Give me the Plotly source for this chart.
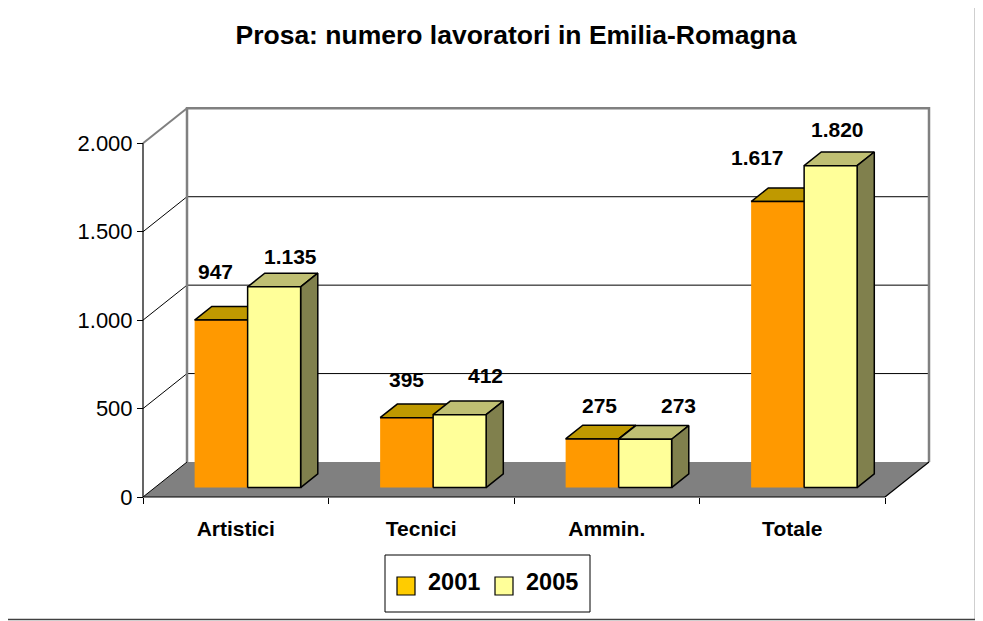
import plotly.graph_objects as go

# ---------------- data ----------------
categories = ["Artistici", "Tecnici", "Ammin.", "Totale"]
series_names = ["2001", "2005"]
values_2001 = [947, 395, 275, 1617]
values_2005 = [1135, 412, 273, 1820]
y_tick_values = [0, 500, 1000, 1500, 2000]
title_text = "Prosa: numero lavoratori in Emilia-Romagna"

# ---------------- style ----------------
FONT = "Liberation Sans, Arial, Helvetica, sans-serif"
FRONT = ["#FF9900", "#FFFF99"]
TOP = ["#BF9900", "#BFBF73"]
SIDE = ["#7F6600", "#80804D"]
LEGEND_COL = ["#FFCC00", "#FFFF99"]
OUTLINE = [False, True]
WALL_EDGE = "#808080"
FLOOR = "#808080"

# page geometry (the browser adds an 8px body margin around the figure)
OFF = 8
W, H = 983 - OFF, 621 - OFF


def fx(px):
    return (px - OFF) / W


def fy(py):
    return 1 - (py - OFF) / H


# projection set-up (page-pixel geometry of the front-left floor corner and scales)
X0_PX, Y0_PX = 143, 497
CAT_PX = 185.5          # width of one category slot
VAL_PX = 0.17685        # px per unit of value
DEPTH_DX_PX, DEPTH_DY_PX = 44, 35
PLOT_L, PLOT_R, PLOT_T, PLOT_B = 125, 950, 90, 515

DX = DEPTH_DX_PX / CAT_PX
DY = DEPTH_DY_PX / VAL_PX
NCAT = len(categories)
BW = 1 / 3.5                       # bar width (gap width 150%)
GAP = (1 - 2 * BW) / 2
D0, D1 = 0.27, 0.66                # bar depth extent
YMAX = max(y_tick_values)


def P(x, y, d):
    return (x + d * DX, y + d * DY)


fig = go.Figure()


def poly(pts, fill, line_color=None, width=0.0):
    xs = [p[0] for p in pts] + [pts[0][0]]
    ys = [p[1] for p in pts] + [pts[0][1]]
    fig.add_trace(go.Scatter(
        x=xs, y=ys, mode="lines", fill="toself", fillcolor=fill,
        line=dict(color=line_color if line_color else fill, width=width),
        hoverinfo="skip", showlegend=False))


def seg(pts, color, width):
    fig.add_trace(go.Scatter(
        x=[p[0] for p in pts], y=[p[1] for p in pts], mode="lines",
        line=dict(color=color, width=width), hoverinfo="skip", showlegend=False))


# floor
poly([P(0, 0, 0), P(NCAT, 0, 0), P(NCAT, 0, 1), P(0, 0, 1)], FLOOR)
# wall gridlines
for v in y_tick_values[1:-1]:
    seg([P(0, v, 1), P(NCAT, v, 1)], "black", 1)
    seg([P(0, v, 0), P(0, v, 1)], "black", 1)
# wall borders
seg([P(0, 0, 1), P(0, YMAX, 1), P(NCAT, YMAX, 1), P(NCAT, 0, 1)], WALL_EDGE, 2.5)
seg([P(0, YMAX, 0), P(0, YMAX, 1)], WALL_EDGE, 2)
# floor edges
seg([P(0, 0, 0), P(0, 0, 1)], "black", 1)
seg([P(NCAT, 0, 0), P(NCAT, 0, 1)], "black", 1.2)

# bars
series_vals = [values_2001, values_2005]
for i in range(NCAT):
    for s in range(2):
        h = series_vals[s][i]
        x0 = i + GAP + s * BW
        x1 = x0 + BW
        lc = "black"
        lw = 1.5
        poly([P(x0, h, D0), P(x1, h, D0), P(x1, h, D1), P(x0, h, D1)], TOP[s], lc, lw)
        poly([P(x1, 0, D0), P(x1, 0, D1), P(x1, h, D1), P(x1, h, D0)], SIDE[s], lc, lw)
        if OUTLINE[s]:
            poly([P(x0, 0, D0), P(x1, 0, D0), P(x1, h, D0), P(x0, h, D0)], FRONT[s], lc, lw)
        else:
            poly([P(x0, 0, D0), P(x1, 0, D0), P(x1, h, D0), P(x0, h, D0)], FRONT[s])
            seg([P(x0, h, D0), P(x1, h, D0)], lc, lw)

# front axes lines
seg([P(0, YMAX, 0), P(0, 0, 0), P(NCAT, 0, 0)], "black", 1.2)

# data labels (pixel nudges relative to the centre of each bar top)
LABEL_SHIFT = [[(-14, 42), (-9, 31), (-1, 27), (-29, 37)],
               [(8, 24), (17, 32), (25, 27), (-2, 29)]]


def fmt(v):
    return f"{v:,}".replace(",", ".")


annotations = []
for s in range(2):
    for i in range(NCAT):
        h = series_vals[s][i]
        xc = i + GAP + s * BW + BW / 2
        ax, ay = P(xc, h, (D0 + D1) / 2)
        dxs, dys = LABEL_SHIFT[s][i]
        annotations.append(dict(
            x=ax, y=ay, xref="x", yref="y", text=fmt(h), showarrow=False,
            xshift=dxs, yshift=dys, xanchor="center", yanchor="middle",
            font=dict(family=FONT, size=21, color="black", weight="bold")))

# legend (drawn box, swatches and texts)
LEG_BOX = (385, 555, 590, 612)
LEG_SWATCH_X = [397, 495]
LEG_SWATCH = 18
LEG_CY = 586
shapes = [dict(type="rect", xref="paper", yref="paper",
               x0=fx(LEG_BOX[0]), x1=fx(LEG_BOX[2]), y0=fy(LEG_BOX[3]), y1=fy(LEG_BOX[1]),
               line=dict(color="black", width=1), fillcolor="white")]
for s in range(2):
    sx = LEG_SWATCH_X[s]
    shapes.append(dict(type="rect", xref="paper", yref="paper",
                       x0=fx(sx), x1=fx(sx + LEG_SWATCH),
                       y0=fy(LEG_CY + LEG_SWATCH / 2), y1=fy(LEG_CY - LEG_SWATCH / 2),
                       line=dict(color="black", width=1.2), fillcolor=LEGEND_COL[s]))
    annotations.append(dict(
        x=fx(sx + LEG_SWATCH + 11), y=fy(LEG_CY - 4), xref="paper", yref="paper",
        text=series_names[s], showarrow=False, xanchor="left", yanchor="middle",
        font=dict(family=FONT, size=23.5, color="black", weight="bold")))

# outer frame (right and bottom edges visible)
shapes += [
    dict(type="line", xref="paper", yref="paper", x0=fx(975.5), x1=fx(975.5),
         y0=fy(619.5), y1=1.02, line=dict(color="#404040", width=1.5)),
    dict(type="line", xref="paper", yref="paper", x0=-0.02, x1=fx(975.5),
         y0=fy(619.5), y1=fy(619.5), line=dict(color="#404040", width=1.5)),
]

xr = [(PLOT_L - X0_PX) / CAT_PX, (PLOT_R - X0_PX) / CAT_PX]
yr = [(Y0_PX - PLOT_B) / VAL_PX, (Y0_PX - PLOT_T) / VAL_PX]

fig.update_layout(
    template="none",
    width=W, height=H,
    margin=dict(l=0, r=0, t=0, b=0),
    paper_bgcolor="white", plot_bgcolor="rgba(0,0,0,0)",
    separators=",.",
    showlegend=False,
    font=dict(family=FONT, color="black"),
    title=dict(text=title_text, x=fx(516), xanchor="center", y=fy(35),
               yanchor="middle", xref="paper", yref="paper",
               font=dict(family=FONT, size=26.5, color="black", weight="bold")),
    xaxis=dict(domain=[fx(PLOT_L), fx(PLOT_R)], range=xr, anchor="free",
               position=fy(Y0_PX), showgrid=False, zeroline=False,
               showline=False, tickvals=[i + 0.5 for i in range(NCAT)],
               ticktext=categories, ticks="", ticklabelstandoff=17,
               tickfont=dict(family=FONT, size=21, color="black", weight="bold"),
               minor=dict(tickvals=list(range(NCAT + 1)), ticks="outside",
                          ticklen=6, tickcolor="black", tickwidth=1, showgrid=False),
               fixedrange=True),
    yaxis=dict(domain=[fy(PLOT_B), fy(PLOT_T)], range=yr, anchor="free",
               position=fx(X0_PX), showgrid=False, zeroline=False, showline=False,
               tickvals=y_tick_values, tickformat=",d", ticks="outside",
               ticklen=6, tickcolor="black", tickwidth=1,
               tickfont=dict(family=FONT, size=22, color="black"),
               fixedrange=True),
    annotations=annotations,
    shapes=shapes,
)

fig.write_html("out.html")
